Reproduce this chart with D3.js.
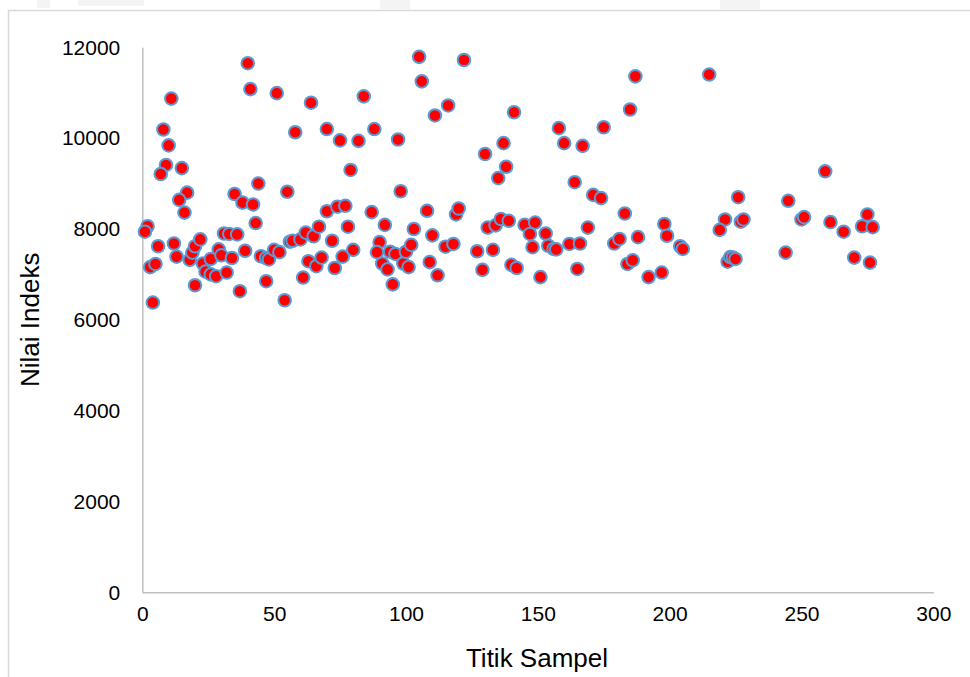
<!DOCTYPE html>
<html>
<head>
<meta charset="utf-8">
<script src="https://cdn.jsdelivr.net/npm/d3@7"></script>
<style>
  html, body { margin: 0; padding: 0; background: #fff; }
  svg { display: block; font-family: "Liberation Sans", Arial, sans-serif; }
</style>
</head>
<body>
<script>
// sample number (x) and index value (y)
const titik = [
  40, 41, 51, 64, 11, 8, 10, 9, 7, 15, 58, 70, 44, 55, 35, 38, 42, 17, 14, 16,
  43, 70, 2, 1, 6, 12, 13, 3, 5, 4, 18, 19, 20, 22, 20, 23, 26, 24, 26, 28,
  29, 30, 32, 34, 31, 33, 36, 39, 37, 45, 47, 48, 50, 52, 47, 54, 56, 57, 60, 62,
  65, 67, 61, 63, 66, 68, 72, 73,
  105, 122, 106, 84, 116, 111, 141, 75, 82, 88, 97, 79, 130, 137, 138, 135, 98, 74, 77, 78,
  87, 92, 76, 80, 90, 89, 91, 93, 94, 96, 95, 99, 100, 101, 102, 103, 108, 110, 109, 112,
  115, 118, 119, 120, 127, 133, 129, 131, 134, 136, 139, 140, 142,
  187, 215, 158, 160, 167, 175, 185, 164, 171, 174, 183, 145, 149, 147, 153, 148, 154, 156, 157, 162,
  166, 169, 151, 165, 179, 181, 188, 184, 186, 192, 197, 198, 199, 204, 205,
  259, 226, 245, 221, 219, 227, 228, 250, 251, 261, 266, 273, 275, 277, 222, 223, 224, 225, 244, 270, 276
];
const nilai = [
  11650, 11080, 10990, 10780, 10870, 10190, 9840, 9410, 9210, 9340, 10130, 10200, 9000, 8820, 8770, 8580, 8540, 8800, 8640, 8360,
  8130, 8390, 8060, 7940, 7620, 7680, 7390, 7160, 7230, 6380, 7320, 7480, 7620, 7770, 6760, 7240, 7340, 7060, 7000, 6960,
  7550, 7420, 7040, 7360, 7900, 7890, 7880, 7520, 6630, 7400, 7360, 7330, 7540, 7490, 6850, 6430, 7720, 7740, 7770, 7920,
  7840, 8050, 6930, 7290, 7180, 7370, 7740, 7140,
  11790, 11720, 11250, 10920, 10720, 10500, 10570, 9950, 9940, 10200, 9970, 9300, 9650, 9890, 9370, 9120, 8830, 8490, 8510, 8050,
  8370, 8090, 7390, 7540, 7710, 7490, 7240, 7110, 7500, 7450, 6780, 7240, 7500, 7160, 7650, 8000, 8400, 7860, 7270, 6980,
  7610, 7670, 8320, 8450, 7510, 7540, 7100, 8030, 8080, 8220, 8180, 7210, 7140,
  11360, 11400, 10220, 9890, 9830, 10240, 10630, 9030, 8750, 8680, 8340, 8090, 8140, 7890, 7900, 7600, 7630, 7560, 7550, 7670,
  7680, 8030, 6940, 7120, 7680, 7780, 7820, 7230, 7310, 6940, 7040, 8110, 7850, 7620, 7560,
  9270, 8700, 8620, 8210, 7980, 8160, 8210, 8210, 8260, 8150, 7940, 8060, 8320, 8040, 7280, 7380, 7370, 7340, 7480, 7370, 7260
];
const xTicks = [0, 50, 100, 150, 200, 250, 300];
const yTicks = [0, 2000, 4000, 6000, 8000, 10000, 12000];

const W = 970, H = 677;
const svg = d3.select("body").append("svg")
  .attr("width", W)
  .attr("height", H);

// faint watermark bits peeking above the chart frame
svg.append("g").attr("fill", "#f4f4f4")
  .selectAll("rect")
  .data([[37, 0, 13, 8], [78, 0, 66, 6], [380, 0, 30, 9], [720, 0, 40, 9]])
  .join("rect")
  .attr("x", d => d[0]).attr("y", d => d[1])
  .attr("width", d => d[2]).attr("height", d => d[3]);

// chart frame
svg.append("rect")
  .attr("x", 8.5).attr("y", 10.5)
  .attr("width", 1000).attr("height", 1000)
  .attr("fill", "#fff")
  .attr("stroke", "#d9d9d9")
  .attr("stroke-width", 1.5);

const x = d3.scaleLinear().domain([0, 300]).range([142.3, 933.3]);
const y = d3.scaleLinear().domain([0, 12000]).range([592.3, 47.3]);

// axes
const xAxis = svg.append("g")
  .attr("transform", `translate(0,${y(0)})`)
  .call(d3.axisBottom(x).tickValues(xTicks).tickSize(0).tickPadding(14).tickFormat(d3.format("d")));
const yAxis = svg.append("g")
  .attr("transform", `translate(${x(0)},0)`)
  .call(d3.axisLeft(y).tickValues(yTicks).tickSize(0).tickPadding(22).tickFormat(d3.format("d")));

[xAxis, yAxis].forEach(g => {
  g.select(".domain").attr("stroke", "#bfbfbf").attr("stroke-width", 1.5);
  g.selectAll("text")
    .attr("fill", "#000")
    .style("font-size", "21px")
    .style("font-family", "'Liberation Sans', Arial, sans-serif");
});

// axis titles
svg.append("text")
  .attr("x", 537)
  .attr("y", 667)
  .attr("text-anchor", "middle")
  .style("font-size", "26px")
  .text("Titik Sampel");

svg.append("text")
  .attr("transform", `translate(39,${(y(0) + y(12000)) / 2}) rotate(-90)`)
  .attr("text-anchor", "middle")
  .style("font-size", "26px")
  .text("Nilai Indeks");

// points
const pts = titik.map((t, i) => ({t, v: nilai[i]}));
svg.append("g")
  .selectAll("circle")
  .data(pts)
  .join("circle")
  .attr("cx", d => x(d.t))
  .attr("cy", d => y(d.v))
  .attr("r", 6.3)
  .attr("fill", "#ff0000")
  .attr("stroke", "#5b9bd5")
  .attr("stroke-width", 2);
</script>
</body>
</html>
